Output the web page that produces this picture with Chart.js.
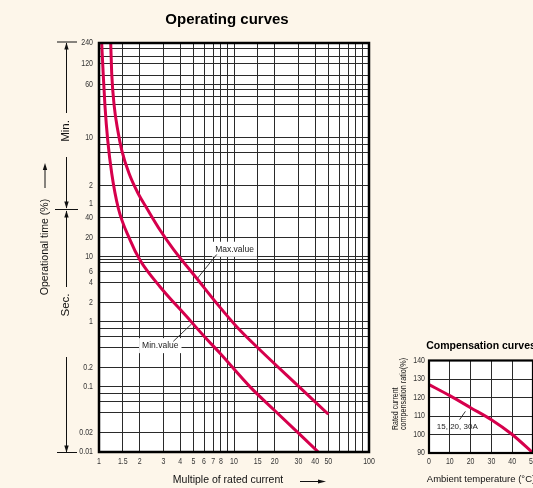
<!DOCTYPE html>
<html><head><meta charset="utf-8">
<script src="https://cdn.jsdelivr.net/npm/chart.js@4.4.1/dist/chart.umd.min.js"></script>
<style>
html,body{margin:0;padding:0;overflow:hidden;background:#fdf6ea;width:533px;height:488px;position:relative;}
#main{position:absolute;left:0;top:0;}
#inset{position:absolute;left:380px;top:330px;}
</style></head><body>
<canvas id="main" width="533" height="488"></canvas>
<canvas id="inset" width="170" height="158"></canvas>
<script>
// ---------------- data ----------------
const xTickLabels = [1,1.5,2,3,4,5,6,7,8,10,15,20,30,40,50,100];
const xGridValues = [1,1.5,2,3,4,5,6,7,8,9,10,15,20,30,40,50,60,70,80,90,100];
// operating time axis: seconds below 1 min, minutes above
const secTickLabels = [0.01,0.02,0.1,0.2,1,2,4,6,10,20,40];
const secGridValues = [0.01,0.02,0.04,0.06,0.08,0.1,0.2,0.4,0.6,0.8,1,2,4,6,8,9,10,20,40,60];
const minTickLabels = [1,2,10,60,120,240];
const minGridValues = [1,2,4,6,8,10,20,30,40,50,60,80,120,150,200,240];

// curves: multiple of rated current vs operating time in seconds
const maxCurveX   = [1.221,1.242,1.298,1.376,1.473,1.668,1.945,2.26,2.83,3.55,5.29,7.45,10.47,15.6,30,50];
const maxCurveSec = [14400,5190,1692,772,394,180,92,55.4,25.7,13.1,4.66,1.92,0.84,0.369,0.103,0.038];
const minCurveX   = [1.047,1.074,1.108,1.16,1.242,1.39,1.697,2.01,2.83,4.46,6.05,7.88,13.1,20.0,42.1];
const minCurveSec = [14400,5190,1692,552,180,55.4,18.1,8.9,3.46,1.2,0.59,0.328,0.101,0.0434,0.01];

// compensation curve
const tempC = [0,10,20,30,40,50];
const compRatio = [127,121,114.5,108,100,90];
const compTicksX = [0,10,20,30,40,50];
const compTicksY = [90,100,110,120,130,140];

// ---------------- styles ----------------
const RED = '#d6004c';
const GRID = '#2a2a2a';
const SANS = "'Liberation Sans',Arial,sans-serif";
const pts = (xs, ys) => xs.map((x, i) => ({x, y: ys[i]}));

// log scale split in two sections (sec / min) with their own decade lengths
const BREAK_SEC = 60;
const BREAK_FRACTION = 246 / 409;
class SplitLogScale extends Chart.LogarithmicScale {
  _dec(value) {
    const lo = Math.log10(this.min), hi = Math.log10(this.max), lb = Math.log10(BREAK_SEC);
    const lv = Math.log10(value > 0 ? value : this.min);
    return lv <= lb ? (lv - lo) / (lb - lo) * BREAK_FRACTION
                    : BREAK_FRACTION + (lv - lb) / (hi - lb) * (1 - BREAK_FRACTION);
  }
  getPixelForValue(value) { return this.getPixelForDecimal(this._dec(value)); }
  getValueForPixel(pixel) {
    const d = this.getDecimalForPixel(pixel);
    const lo = Math.log10(this.min), hi = Math.log10(this.max), lb = Math.log10(BREAK_SEC);
    const lv = d <= BREAK_FRACTION ? lo + d / BREAK_FRACTION * (lb - lo)
                                   : lb + (d - BREAK_FRACTION) / (1 - BREAK_FRACTION) * (hi - lb);
    return Math.pow(10, lv);
  }
}
SplitLogScale.id = 'splitLog';
SplitLogScale.defaults = Chart.LogarithmicScale.defaults;
Chart.register(SplitLogScale);

function arrowHead(ctx, x, y, dir) {
  ctx.beginPath();
  if (dir === 'up') { ctx.moveTo(x, y); ctx.lineTo(x - 2.2, y + 7); ctx.lineTo(x + 2.2, y + 7); }
  else if (dir === 'down') { ctx.moveTo(x, y); ctx.lineTo(x - 2.2, y - 7); ctx.lineTo(x + 2.2, y - 7); }
  else { ctx.moveTo(x, y); ctx.lineTo(x - 8, y - 2); ctx.lineTo(x - 8, y + 2); }
  ctx.closePath(); ctx.fill();
}
function line(ctx, x1, y1, x2, y2) { ctx.beginPath(); ctx.moveTo(x1, y1); ctx.lineTo(x2, y2); ctx.stroke(); }
function rotText(ctx, txt, x, y, font, align, sx) {
  ctx.save(); ctx.translate(x, y); ctx.rotate(-Math.PI / 2); ctx.scale(sx || 1, 1);
  ctx.font = font; ctx.textAlign = align || 'center'; ctx.textBaseline = 'middle';
  ctx.fillText(txt, 0, 0); ctx.restore();
}
function narrowText(ctx, txt, x, y, align, sx) {
  ctx.save(); ctx.translate(x, y); ctx.scale(sx, 1);
  ctx.textAlign = align; ctx.textBaseline = 'middle'; ctx.fillText(txt, 0, 0); ctx.restore();
}

const mainDeco = {
  id: 'mainDeco',
  beforeDraw(chart) {
    const {ctx, chartArea: a} = chart;
    ctx.save(); ctx.fillStyle = '#fff';
    ctx.fillRect(a.left, a.top, a.right - a.left, a.bottom - a.top); ctx.restore();
  },
  beforeDatasetsDraw(chart) {
    const {ctx} = chart;
    const sx = chart.scales.x, sy = chart.scales.y;
    const labels = [
      {t: 'Max.value', at: [10.09, 13.0], from: [7.45, 10.8], to: [5.29, 4.49]},
      {t: 'Min.value', at: [2.845, 0.43], from: [3.55, 0.5], to: [4.86, 0.93]}
    ];
    ctx.save();
    ctx.font = '8.5px ' + SANS;
    labels.forEach(l => {
      const cx = sx.getPixelForValue(l.at[0]), cy = sy.getPixelForValue(l.at[1]);
      const w = ctx.measureText(l.t).width;
      ctx.fillStyle = '#fff';
      ctx.fillRect(cx - w / 2 - 3, cy - 7.5, w + 6, 15);
      ctx.fillStyle = '#222'; ctx.textAlign = 'center'; ctx.textBaseline = 'middle';
      ctx.fillText(l.t, cx, cy);
      ctx.strokeStyle = '#222'; ctx.lineWidth = 0.9;
      line(ctx, sx.getPixelForValue(l.from[0]), sy.getPixelForValue(l.from[1]),
                sx.getPixelForValue(l.to[0]), sy.getPixelForValue(l.to[1]));
    });
    ctx.restore();
  },
  afterDatasetsDraw(chart) {
    const {ctx, chartArea: a} = chart;
    ctx.save(); ctx.strokeStyle = '#000'; ctx.lineWidth = 2.5;
    ctx.strokeRect(a.left, a.top, a.right - a.left, a.bottom - a.top); ctx.restore();
  },
  afterDraw(chart) {
    const {ctx, chartArea: a} = chart;
    const sx = chart.scales.x, sy = chart.scales.y;
    const mid = sy.getPixelForValue(BREAK_SEC);
    const cx = (a.left + a.right) / 2;
    ctx.save();
    // tick labels (condensed)
    ctx.fillStyle = '#333'; ctx.font = '9px ' + SANS;
    secTickLabels.forEach(v => narrowText(ctx, String(v), a.left - 6, sy.getPixelForValue(v), 'right', 0.78));
    minTickLabels.forEach(m => narrowText(ctx, String(m), a.left - 6, sy.getPixelForValue(m * 60) - (m === 1 ? 2 : 0), 'right', 0.78));
    xTickLabels.forEach(v => narrowText(ctx, String(v), sx.getPixelForValue(v), a.bottom + 9.5, 'center', 0.78));
    // title
    ctx.fillStyle = '#000';
    ctx.font = 'bold 15px ' + SANS; ctx.textAlign = 'center'; ctx.textBaseline = 'alphabetic';
    ctx.fillText('Operating curves', cx - 7, 23.5);
    // x title + arrow
    ctx.fillStyle = '#111';
    ctx.font = '10.5px ' + SANS;
    ctx.fillText('Multiple of rated current', cx - 6, a.bottom + 31);
    ctx.strokeStyle = '#111'; ctx.lineWidth = 1;
    line(ctx, 300, a.bottom + 29.5, 320, a.bottom + 29.5);
    arrowHead(ctx, 326, a.bottom + 29.5, 'right');
    // dimension lines
    const dx = 66.5;
    line(ctx, 57, a.top - 1, 77, a.top - 1);
    line(ctx, dx, a.top, dx, 113); arrowHead(ctx, dx, a.top - 0.5, 'up');
    line(ctx, dx, 157, dx, mid + 2); arrowHead(ctx, dx, mid + 2.5, 'down');
    line(ctx, 55, mid + 3.5, 78, mid + 3.5);
    line(ctx, dx, mid + 5, dx, 287); arrowHead(ctx, dx, mid + 4.5, 'up');
    line(ctx, dx, 357, dx, a.bottom); arrowHead(ctx, dx, a.bottom + 0.5, 'down');
    line(ctx, 57, a.bottom + 0.5, 77, a.bottom + 0.5);
    ctx.fillStyle = '#111';
    rotText(ctx, 'Min.', 65.5, 131, '11.5px ' + SANS);
    rotText(ctx, 'Sec.', 65.5, 305, '11.5px ' + SANS);
    rotText(ctx, 'Operational time (%)', 45, 247, '10.5px ' + SANS);
    line(ctx, 45, 188, 45, 168); arrowHead(ctx, 45, 163, 'up');
    ctx.restore();
  }
};

const gridOpts = () => ({color: GRID, lineWidth: 1, drawTicks: false});

new Chart(document.getElementById('main'), {
  type: 'scatter',
  data: {datasets: [
    {label: 'Max.value', data: pts(maxCurveX, maxCurveSec)},
    {label: 'Min.value', data: pts(minCurveX, minCurveSec)}
  ].map(d => Object.assign(d, {showLine: true, borderColor: RED, borderWidth: 3, pointRadius: 0,
      cubicInterpolationMode: 'monotone', borderCapStyle: 'butt'}))},
  options: {
    responsive: false, animation: false, events: [],
    layout: {padding: {left: 0, top: 43, right: 164, bottom: 0}},
    plugins: {legend: {display: false}, tooltip: {enabled: false}},
    scales: {
      x: {type: 'logarithmic', min: 1, max: 100, position: 'bottom',
        afterBuildTicks: s => { s.ticks = xGridValues.map(v => ({value: v})); },
        afterFit: s => { s.height = 36; },
        ticks: {display: false, autoSkip: false},
        grid: gridOpts(), border: {display: false}},
      y: {type: 'splitLog', min: 0.01, max: 14400, position: 'left',
        afterBuildTicks: s => {
          s.ticks = secGridValues.map(v => ({value: v})).concat(minGridValues.map(m => ({value: m * 60})));
        },
        afterFit: s => { s.width = 99; },
        ticks: {display: false, autoSkip: false},
        grid: gridOpts(), border: {display: false}}
    }
  },
  plugins: [mainDeco]
});

const insetDeco = {
  id: 'insetDeco',
  beforeDraw(chart) {
    const {ctx, chartArea: a} = chart;
    ctx.save(); ctx.fillStyle = '#fff';
    ctx.fillRect(a.left, a.top, a.right - a.left, a.bottom - a.top); ctx.restore();
  },
  beforeDatasetsDraw(chart) {
    const {ctx} = chart;
    const sx = chart.scales.x, sy = chart.scales.y;
    ctx.save();
    ctx.font = '8px ' + SANS; ctx.fillStyle = '#222'; ctx.textAlign = 'center'; ctx.textBaseline = 'middle';
    ctx.fillText('15, 20, 30A', sx.getPixelForValue(13.6), sy.getPixelForValue(104.2));
    ctx.strokeStyle = '#222'; ctx.lineWidth = 0.9;
    line(ctx, sx.getPixelForValue(14.7), sy.getPixelForValue(108), sx.getPixelForValue(17.5), sy.getPixelForValue(112.5));
    ctx.restore();
  },
  afterDatasetsDraw(chart) {
    const {ctx, chartArea: a} = chart;
    ctx.save(); ctx.strokeStyle = '#000'; ctx.lineWidth = 2.2;
    ctx.strokeRect(a.left, a.top, a.right - a.left, a.bottom - a.top); ctx.restore();
  },
  afterDraw(chart) {
    const {ctx, chartArea: a} = chart;
    const sx = chart.scales.x, sy = chart.scales.y;
    const cx = (a.left + a.right) / 2;
    ctx.save();
    ctx.fillStyle = '#333'; ctx.font = '8.5px ' + SANS;
    compTicksY.forEach(v => narrowText(ctx, String(v), a.left - 4, sy.getPixelForValue(v), 'right', 0.82));
    compTicksX.forEach(v => narrowText(ctx, String(v), sx.getPixelForValue(v), a.bottom + 8.5, 'center', 0.82));
    ctx.fillStyle = '#000';
    ctx.font = 'bold 10.5px ' + SANS; ctx.textAlign = 'center'; ctx.textBaseline = 'alphabetic';
    ctx.fillText('Compensation curves', cx, a.top - 11.5);
    ctx.fillStyle = '#111';
    ctx.font = '9.5px ' + SANS;
    ctx.fillText('Ambient temperature (°C)', cx, a.bottom + 28.5);
    rotText(ctx, 'Rated current', 16, 100, '9px ' + SANS, 'left', 0.78);
    rotText(ctx, 'compensation ratio(%)', 24, 100, '9px ' + SANS, 'left', 0.8);
    ctx.restore();
  }
};

new Chart(document.getElementById('inset'), {
  type: 'scatter',
  data: {datasets: [{label: '15, 20, 30A', data: pts(tempC, compRatio), showLine: true, borderColor: RED,
    borderWidth: 3, pointRadius: 0, cubicInterpolationMode: 'monotone'}]},
  options: {
    responsive: false, animation: false, events: [],
    layout: {padding: {left: 0, top: 30.5, right: 17, bottom: 0}},
    plugins: {legend: {display: false}, tooltip: {enabled: false}},
    scales: {
      x: {type: 'linear', min: 0, max: 50,
        afterBuildTicks: s => { s.ticks = compTicksX.map(v => ({value: v})); },
        afterFit: s => { s.height = 35; },
        ticks: {display: false, autoSkip: false},
        grid: gridOpts(), border: {display: false}},
      y: {type: 'linear', min: 90, max: 140,
        afterBuildTicks: s => { s.ticks = compTicksY.map(v => ({value: v})); },
        afterFit: s => { s.width = 49; },
        ticks: {display: false, autoSkip: false},
        grid: gridOpts(), border: {display: false}}
    }
  },
  plugins: [insetDeco]
});
</script>
</body></html>
